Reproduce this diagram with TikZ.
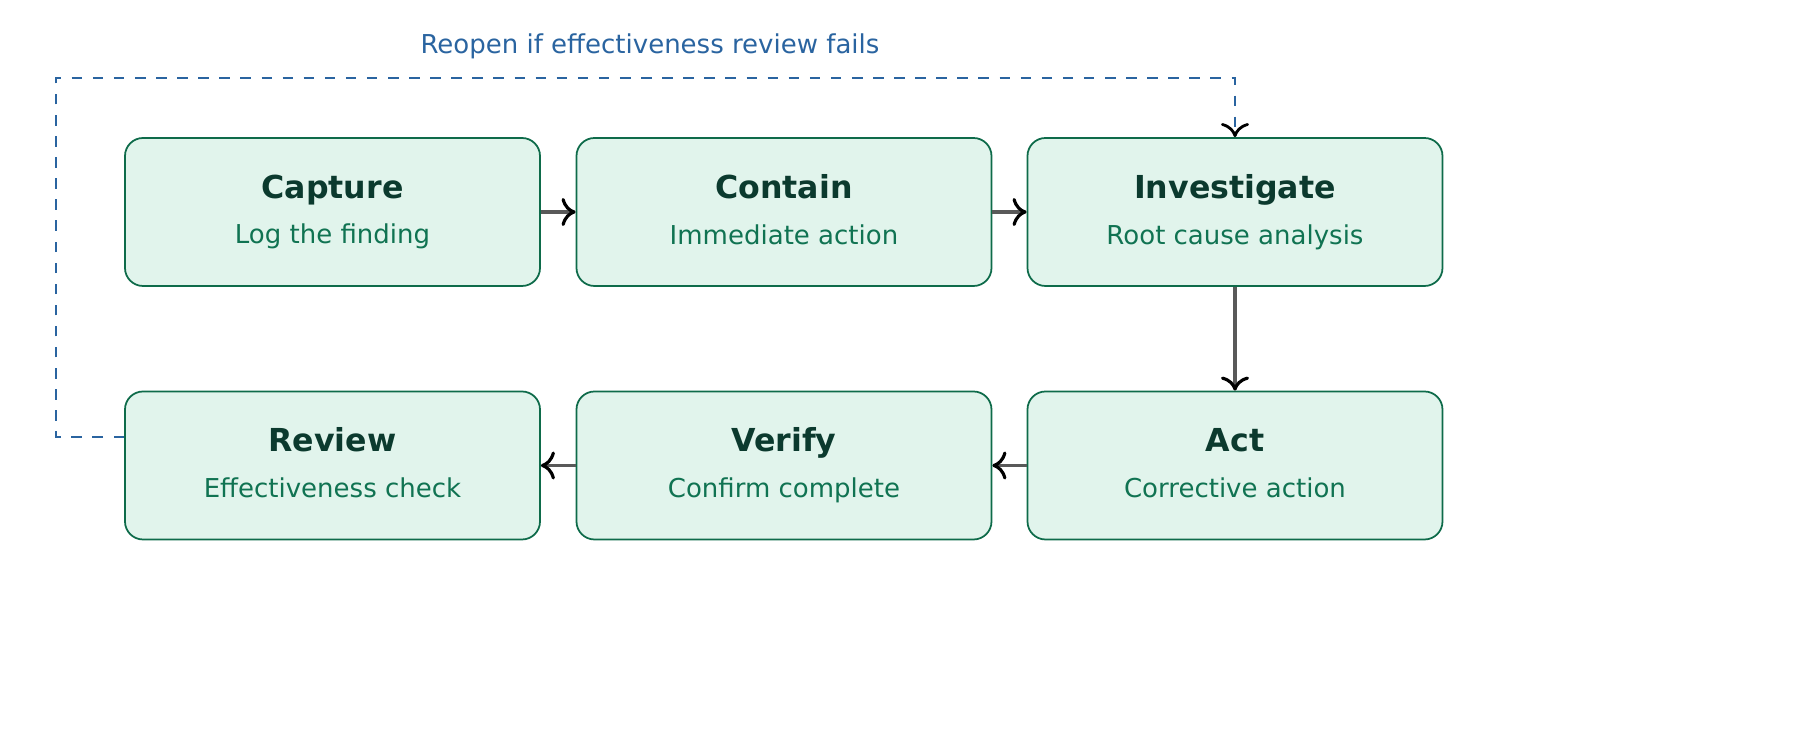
\documentclass[tikz,border=0pt]{standalone}
\usepackage{fontspec}
\setmainfont{DejaVu Sans}
\usetikzlibrary{positioning,arrows.meta}
\definecolor{Boxfill}{HTML}{E1F4EC}
\definecolor{Boxline}{HTML}{0E6B4A}
\definecolor{Titlecolor}{HTML}{0B3A2E}
\definecolor{Subcolor}{HTML}{107352}
\definecolor{Loopcolor}{HTML}{2A64A0}
\tikzset{
  stage/.style={draw=Boxline, fill=Boxfill, rounded corners=0.18cm, minimum width=4.15cm, minimum height=1.48cm, line width=0.5pt, align=center},
  flow/.style={draw=black!65, line width=0.9pt, -{To[length=4pt, width=8pt, color=black]}},
  loop/.style={draw=Loopcolor, dashed, line width=0.8pt, -{To[length=4pt, width=8pt, color=black]}}
}
\newcommand{\stagetext}[2]{{\fontsize{9pt}{11pt}\selectfont\bfseries\color{Titlecolor}\vphantom{Apg}#1}\\[1pt]{\fontsize{7.4pt}{9pt}\selectfont\color{Subcolor}\vphantom{Apg}#2}}
\begin{document}
\begin{tikzpicture}
    \useasboundingbox (0,0) rectangle (18,-7.4);
    % top row
    \node[stage] (capture) at (3.325,-2.12) {\stagetext{Capture}{Log the finding}};
    \node[stage] (contain) at (7.84,-2.12) {\stagetext{Contain}{Immediate action}};
    \node[stage] (investigate) at (12.35,-2.12) {\stagetext{Investigate}{Root cause analysis}};
    % bottom row
    \node[stage] (review) at (3.325,-4.655) {\stagetext{Review}{Effectiveness check}};
    \node[stage] (verify) at (7.84,-4.655) {\stagetext{Verify}{Confirm complete}};
    \node[stage] (act) at (12.35,-4.655) {\stagetext{Act}{Corrective action}};
    % connectors
    \draw[flow] (capture) -- (contain);
    \draw[flow] (contain) -- (investigate);
    \draw[flow] (investigate) -- (act);
    \draw[flow] (act) -- (verify);
    \draw[flow] (verify) -- (review);
    % reopen loop
    \coordinate (loopleft) at (0.56,-4.37);
    \draw[loop] (review.west |- loopleft) -- (loopleft) |- (12.35,-0.78) -- (investigate.north);
    \node[text=Loopcolor, font=\fontsize{7.4pt}{9pt}\selectfont] (looplabel) at (6.5,-0.46) {Reopen if effectiveness review fails};
\end{tikzpicture}
\end{document}
